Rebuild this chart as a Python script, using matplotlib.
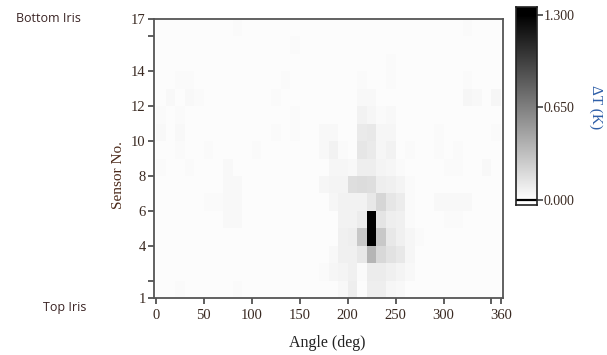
import numpy as np
import matplotlib
matplotlib.use('Agg')
import matplotlib.pyplot as plt

# temperature rise per cell, in units of 0.01 K
# rows listed from sensor band 16-17 (top) down to 1-2 (bottom), 10 deg per column
dt_rows = [
    [2, 2, 2, 2, 2, 2, 2, 2, 3, 2, 2, 2, 2, 2, 2, 2, 2, 2,  2, 2, 2, 2, 2, 2, 2, 2, 2, 2, 2, 2, 2, 2, 3, 2, 2, 2],
    [2, 2, 2, 2, 2, 2, 2, 2, 2, 2, 2, 2, 2, 2, 3, 2, 2, 2,  2, 2, 2, 2, 2, 2, 2, 2, 2, 2, 2, 2, 2, 2, 2, 2, 2, 2],
    [2, 2, 2, 2, 2, 2, 2, 2, 2, 2, 2, 2, 2, 2, 2, 2, 2, 2,  2, 2, 2, 2, 2, 2, 3, 2, 2, 2, 2, 2, 2, 2, 2, 2, 2, 2],
    [2, 2, 3, 3, 2, 2, 2, 2, 2, 2, 2, 2, 2, 3, 2, 2, 2, 2,  2, 2, 2, 3, 2, 2, 3, 2, 2, 2, 2, 2, 2, 2, 3, 2, 2, 2],
    [2, 4, 2, 4, 3, 2, 2, 2, 2, 2, 2, 2, 3, 2, 2, 2, 2, 2,  2, 2, 2, 4, 4, 2, 2, 2, 2, 2, 2, 2, 2, 2, 5, 4, 2, 5],
    [3, 2, 3, 2, 2, 2, 2, 2, 2, 2, 2, 2, 2, 2, 3, 2, 2, 2,  2, 2, 2, 7, 5, 3, 4, 2, 2, 2, 2, 2, 2, 2, 2, 2, 2, 2],
    [4, 2, 4, 2, 2, 2, 2, 2, 2, 2, 2, 2, 3, 2, 3, 2, 2, 4,  4, 2, 2, 11, 12, 5, 5, 2, 2, 2, 2, 3, 2, 2, 2, 2, 2, 3],
    [2, 2, 3, 2, 2, 3, 2, 2, 2, 2, 3, 2, 2, 2, 2, 2, 2, 4,  7, 3, 2, 13, 11, 5, 7, 2, 3, 2, 2, 3, 2, 3, 2, 2, 2, 2],
    [3, 2, 2, 3, 2, 2, 2, 4, 2, 2, 2, 2, 2, 2, 2, 2, 2, 2,  5, 5, 4, 9, 9, 6, 5, 3, 2, 2, 2, 2, 3, 3, 2, 2, 4, 2],
    [2, 2, 2, 2, 2, 2, 2, 4, 4, 2, 2, 2, 2, 2, 2, 2, 2, 5,  6, 6, 17, 18, 17, 9, 8, 6, 3, 2, 2, 2, 2, 2, 2, 2, 2, 2],
    [2, 2, 2, 2, 2, 3, 3, 4, 4, 2, 2, 2, 2, 2, 2, 2, 2, 2,  5, 7, 7, 7, 12, 21, 13, 10, 3, 2, 2, 4, 4, 4, 4, 2, 2, 2],
    [2, 2, 2, 2, 2, 2, 2, 4, 4, 2, 2, 2, 2, 2, 2, 2, 2, 2,  2, 7, 7, 10, 130, 14, 9, 8, 3, 2, 2, 2, 3, 3, 2, 2, 2, 2],
    [2, 2, 2, 2, 2, 2, 2, 2, 2, 2, 2, 2, 2, 2, 2, 2, 2, 2,  2, 8, 9, 28, 130, 28, 12, 8, 5, 3, 2, 2, 2, 2, 2, 2, 2, 2],
    [2, 2, 2, 2, 2, 2, 2, 2, 2, 2, 2, 2, 2, 2, 2, 2, 2, 2,  4, 8, 8, 12, 38, 20, 15, 12, 5, 2, 2, 2, 2, 2, 2, 2, 2, 2],
    [2, 2, 2, 2, 2, 2, 2, 2, 2, 2, 2, 2, 2, 2, 2, 2, 2, 3,  5, 6, 8, 3, 10, 10, 8, 6, 4, 2, 2, 2, 2, 2, 2, 2, 2, 2],
    [2, 2, 3, 2, 2, 2, 2, 2, 3, 2, 2, 2, 2, 2, 2, 2, 2, 2,  2, 4, 9, 2, 9, 9, 5, 4, 2, 2, 2, 2, 2, 2, 2, 2, 2, 2],
]

angle_edges = np.arange(0, 370, 10)
sensor_edges = np.arange(17, 0, -1)

x_ticks = [0, 50, 100, 150, 200, 250, 300, 350, 360]
x_labels = ['0', '50', '100', '150', '200', '250', '300', '', '360']
y_ticks = [1, 2, 4, 6, 8, 10, 12, 14, 16, 17]
y_labels = ['1', '', '4', '6', '8', '10', '12', '14', '', '17']
cb_ticks = [0.0, 0.65, 1.3]

vmax = 1.3
delta_t = np.array(dt_rows) / 100.0

serif = 'Liberation Serif'
tick_col = '#3a2a22'

fig = plt.figure(figsize=(6.07, 3.55), dpi=100)
ax = fig.add_axes([154 / 607, 1 - 298 / 355, 349 / 607, 279 / 355])

ax.pcolormesh(angle_edges, sensor_edges, delta_t, cmap='gray_r', vmin=0, vmax=vmax,
              shading='flat')
ax.set_xlim(-2, 362)
ax.set_ylim(1, 17)

ax.set_xticks(x_ticks)
ax.set_xticklabels(x_labels)
ax.set_yticks(y_ticks)
ax.set_yticklabels(y_labels)
ax.tick_params(axis='both', direction='out', length=4, width=1.1, color='#333333',
               labelcolor=tick_col, labelsize=10.5, pad=2)
ax.tick_params(axis='x', pad=4)
for lab in ax.get_xticklabels() + ax.get_yticklabels():
    lab.set_family(serif)
for s in ax.spines.values():
    s.set_color('#555555')
    s.set_linewidth(1.3)

fig.text(327 / 607, 1 - 343 / 355, 'Angle (deg)', family=serif, fontsize=11.5,
         color='#222222', ha='center', va='center')
fig.text(118 / 607, 1 - 175 / 355, 'Sensor No.', family=serif, fontsize=11,
         color='#4a2818', rotation=90, ha='center', va='center')

fig.text(16 / 607, 1 - 18 / 355, 'Bottom Iris', family='Open Sans', fontsize=9,
         color='#3a2424', ha='left', va='center')
fig.text(43 / 607, 1 - 307 / 355, 'Top Iris', family='Open Sans', fontsize=9,
         color='#3a2424', ha='left', va='center')

# colour scale bar
cax = fig.add_axes([516 / 607, 1 - 205 / 355, 21 / 607, 198 / 355])
cb_low, cb_high = -0.035, 1.356
grad = np.linspace(0, vmax, 256).reshape(-1, 1)
cax.imshow(grad, cmap='gray_r', vmin=0, vmax=vmax, origin='lower', aspect='auto',
           extent=[0, 1, 0, vmax])
cax.axhspan(vmax, cb_high, color='black')
cax.axhline(0, color='black', lw=1.6)
cax.set_xlim(0, 1)
cax.set_ylim(cb_low, cb_high)
cax.set_xticks([])
cax.yaxis.tick_right()
cax.set_yticks(cb_ticks)
cax.set_yticklabels(['%.3f' % t for t in cb_ticks])
cax.tick_params(axis='y', direction='out', length=4, width=1.1, color='#333333',
                labelcolor=tick_col, labelsize=10, pad=1)
for lab in cax.get_yticklabels():
    lab.set_family(serif)
for s in cax.spines.values():
    s.set_color('#222222')
    s.set_linewidth(1.2)

fig.text(596 / 607, 1 - 107 / 355, '\u0394T (K)', family=serif, fontsize=11,
         color='#2f5fa8', rotation=270, ha='center', va='center')

fig.savefig('out.png', dpi=100)
